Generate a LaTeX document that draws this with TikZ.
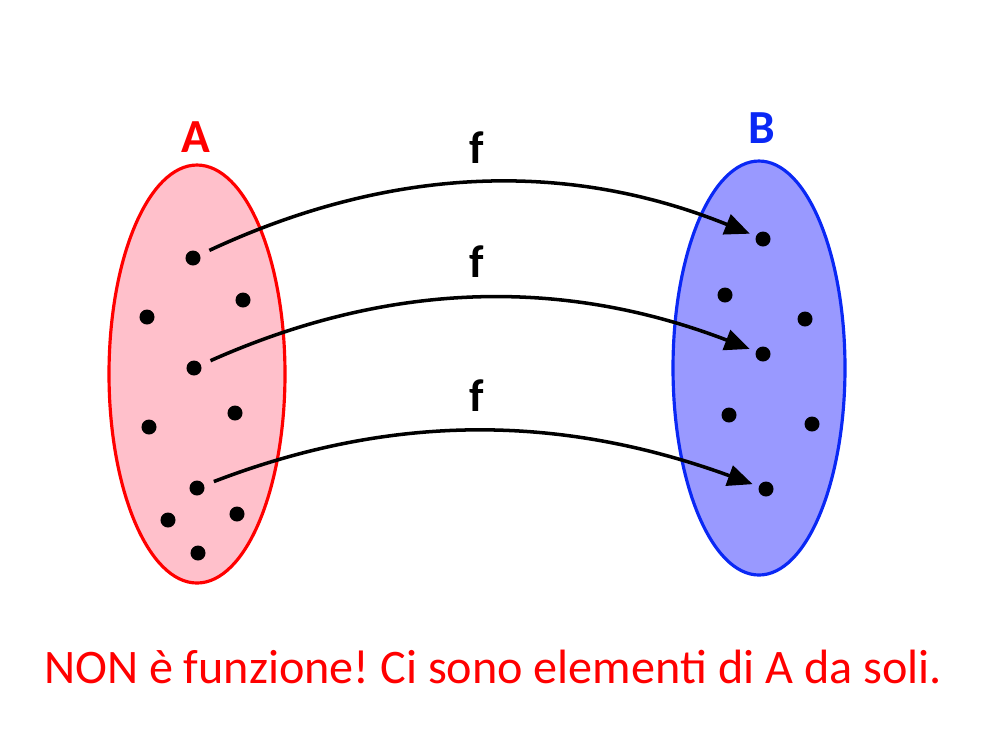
\documentclass[tikz,border=0pt]{standalone}
\usepackage{fontspec}
\setmainfont{Carlito}
\usetikzlibrary{arrows.meta}
\definecolor{fillA}{RGB}{255,192,203}
\definecolor{lineA}{RGB}{255,0,0}
\definecolor{fillB}{RGB}{153,153,255}
\definecolor{lineB}{RGB}{10,40,245}
\definecolor{labB}{RGB}{10,40,245}
\tikzset{
  dot/.style={circle, fill=black, inner sep=0pt, minimum size=0.15cm},
  setlab/.style={anchor=base, font=\fontsize{13.5pt}{15pt}\selectfont\bfseries, inner sep=0pt},
  flab/.style={anchor=base, font=\fontsize{13pt}{15pt}\selectfont\bfseries, inner sep=0pt},
  conn/.style={draw=black, line width=1pt, -{Triangle[length=0.25cm,width=0.21cm]}, shorten <=2.8pt, shorten >=1.7pt},
  msg/.style={anchor=base, text=lineA, font=\fontsize{13.7pt}{16pt}\selectfont, inner sep=0pt}
}
\frenchspacing
\begin{document}
\begin{tikzpicture}[x=0.01cm, y=-0.01cm]
\useasboundingbox (0,0) rectangle (1000,750);
% sets
\draw[fill=fillA, draw=lineA, line width=0.9pt] (197,374) ellipse [x radius=88, y radius=209];
\draw[fill=fillB, draw=lineB, line width=0.9pt] (759,368) ellipse [x radius=86, y radius=207];
% labels
\node[setlab, text=lineA] (labA) at (196,152) {A};
\node[setlab, text=labB] (labB) at (762,143) {B};
% dots in A
\node[dot] (a1) at (193,258) {};
\node[dot] (a4) at (243,300) {};
\node[dot] (a5) at (147,317) {};
\node[dot] (a2) at (194,368) {};
\node[dot] (a6) at (235,413) {};
\node[dot] (a7) at (149,427) {};
\node[dot] (a3) at (197,488) {};
\node[dot] (a8) at (168,520) {};
\node[dot] (a9) at (237,514) {};
\node[dot] (a10) at (198,553) {};
% dots in B
\node[dot] (b1) at (763,239) {};
\node[dot] (b4) at (725,295) {};
\node[dot] (b5) at (805,319) {};
\node[dot] (b2) at (763,354) {};
\node[dot] (b6) at (729,415) {};
\node[dot] (b7) at (812,424) {};
\node[dot] (b3) at (766,489) {};
% arrows
\draw[conn] (a1) to[out=25, in=158, looseness=0.95] (b1);
\draw[conn] (a2) to[out=24, in=159, looseness=0.95] (b2);
\draw[conn] (a3) to[out=21, in=160, looseness=0.95] (b3);
% f labels
\node[flab] (f1) at (477,163) {f};
\node[flab] (f2) at (477,277) {f};
\node[flab] (f3) at (477,411) {f};
% message
\node[msg] (note) at (493,683) {NON è funzione! Ci sono elementi di A da soli.};
\end{tikzpicture}
\end{document}
